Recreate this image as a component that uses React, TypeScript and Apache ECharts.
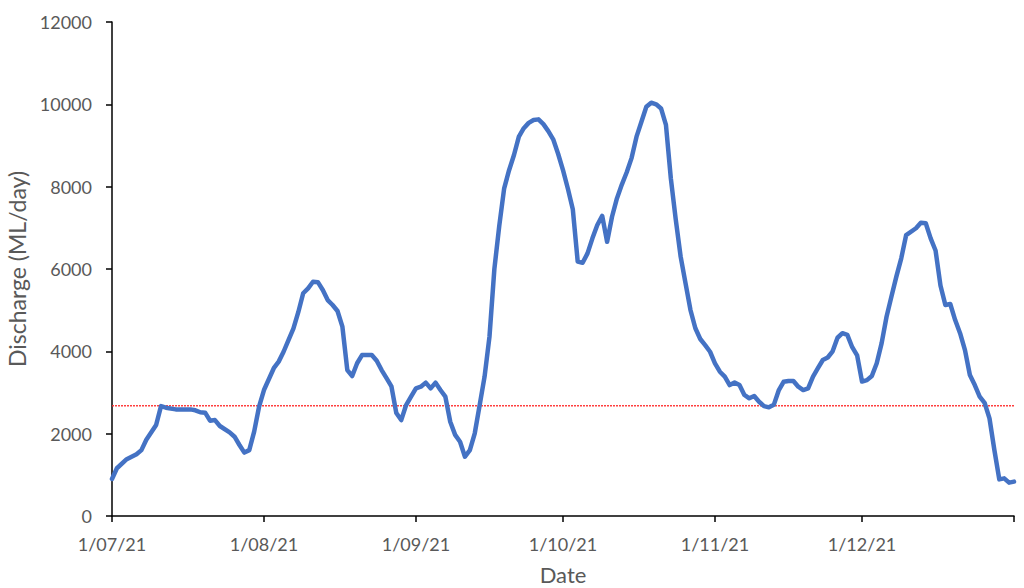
import React, { useEffect, useRef } from "react";
import * as echarts from "echarts";

const dates: string[] = [
  "2021-07-01", "2021-07-02", "2021-07-04", "2021-07-06", "2021-07-07", "2021-07-08", "2021-07-10", "2021-07-11",
  "2021-07-12", "2021-07-14", "2021-07-17", "2021-07-18", "2021-07-19", "2021-07-20", "2021-07-21", "2021-07-22",
  "2021-07-23", "2021-07-25", "2021-07-26", "2021-07-27", "2021-07-28", "2021-07-29", "2021-07-30", "2021-07-31",
  "2021-08-01", "2021-08-03", "2021-08-04", "2021-08-05", "2021-08-06", "2021-08-07", "2021-08-08", "2021-08-09",
  "2021-08-10", "2021-08-11", "2021-08-12", "2021-08-13", "2021-08-14", "2021-08-15", "2021-08-16", "2021-08-17",
  "2021-08-18", "2021-08-19", "2021-08-20", "2021-08-21", "2021-08-23", "2021-08-24", "2021-08-25", "2021-08-26",
  "2021-08-27", "2021-08-28", "2021-08-29", "2021-08-30", "2021-08-31",
  "2021-09-01", "2021-09-02", "2021-09-03", "2021-09-04", "2021-09-05", "2021-09-06", "2021-09-07", "2021-09-08",
  "2021-09-09", "2021-09-10", "2021-09-11", "2021-09-12", "2021-09-13", "2021-09-14", "2021-09-15", "2021-09-16",
  "2021-09-17", "2021-09-18", "2021-09-19", "2021-09-20", "2021-09-21", "2021-09-22", "2021-09-23", "2021-09-24",
  "2021-09-25", "2021-09-26", "2021-09-27", "2021-09-28", "2021-09-29", "2021-09-30",
  "2021-10-01", "2021-10-02", "2021-10-03", "2021-10-04", "2021-10-05", "2021-10-06", "2021-10-07", "2021-10-08",
  "2021-10-09", "2021-10-10", "2021-10-11", "2021-10-12", "2021-10-13", "2021-10-14", "2021-10-15", "2021-10-16",
  "2021-10-17", "2021-10-18", "2021-10-19", "2021-10-20", "2021-10-21", "2021-10-22", "2021-10-23", "2021-10-24",
  "2021-10-25", "2021-10-26", "2021-10-27", "2021-10-28", "2021-10-29", "2021-10-30", "2021-10-31",
  "2021-11-01", "2021-11-02", "2021-11-03", "2021-11-04", "2021-11-05", "2021-11-06", "2021-11-07", "2021-11-08",
  "2021-11-09", "2021-11-10", "2021-11-11", "2021-11-12", "2021-11-13", "2021-11-14", "2021-11-15", "2021-11-16",
  "2021-11-17", "2021-11-18", "2021-11-19", "2021-11-20", "2021-11-21", "2021-11-22", "2021-11-23", "2021-11-24",
  "2021-11-25", "2021-11-26", "2021-11-27", "2021-11-28", "2021-11-29", "2021-11-30",
  "2021-12-01", "2021-12-02", "2021-12-03", "2021-12-04", "2021-12-05", "2021-12-06", "2021-12-07", "2021-12-08",
  "2021-12-09", "2021-12-10", "2021-12-12", "2021-12-13", "2021-12-14", "2021-12-15", "2021-12-16", "2021-12-17",
  "2021-12-18", "2021-12-19", "2021-12-20", "2021-12-21", "2021-12-22", "2021-12-23", "2021-12-24", "2021-12-25",
  "2021-12-26", "2021-12-27", "2021-12-28", "2021-12-29", "2021-12-30", "2021-12-31", "2022-01-01",
];

const discharge: number[] = [
  900, 1160, 1380, 1500, 1600, 1850, 2210, 2670,
  2630, 2590, 2590, 2567, 2520, 2510, 2315, 2330,
  2186, 2033, 1926, 1725, 1540, 1600, 2050, 2655,
  3060, 3590, 3750, 3990, 4275, 4550, 4950, 5410,
  5530, 5690, 5680, 5490, 5245, 5125, 4980, 4600,
  3545, 3400, 3710, 3910, 3910, 3770, 3545, 3350,
  3150, 2500, 2330, 2695, 2900,
  3100, 3140, 3240, 3100, 3240, 3060, 2900, 2290,
  1970, 1805, 1440, 1600, 2010, 2695, 3385, 4355,
  6000, 7050, 7960, 8400, 8770, 9215, 9420, 9550,
  9620, 9635, 9520, 9350, 9150, 8800,
  8400, 7950, 7450, 6180, 6150, 6380, 6745, 7070,
  7290, 6660, 7270, 7715, 8050, 8350, 8700, 9215,
  9575, 9940, 10040, 10000, 9900, 9500, 8200, 7200,
  6300, 5650, 5005, 4560, 4300, 4150, 3990,
  3710, 3505, 3385, 3180, 3240, 3180, 2940, 2860,
  2915, 2775, 2670, 2640, 2700, 3050, 3260, 3280,
  3280, 3140, 3060, 3100, 3385, 3590, 3790, 3850,
  4000, 4330, 4440, 4400, 4100, 3900,
  3265, 3300, 3400, 3710, 4200, 4840, 5330, 5815,
  6260, 6825, 6990, 7125, 7110, 6745, 6450, 5600,
  5125, 5150, 4760, 4440, 4030, 3425, 3180, 2900,
  2750, 2370, 1600, 890, 915, 810, 835,
];

const monthTicks: string[] = [
  "2021-07-01", "2021-08-01", "2021-09-01", "2021-10-01", "2021-11-01", "2021-12-01", "2022-01-01",
];
const monthLabels: string[] = monthTicks.slice(0, 6);

const threshold = 2680;

const FONT = "Lato, Carlito, 'Open Sans', sans-serif";
const GREY = "#595959";

function toTs(s: string): number {
  const [y, m, d] = s.split("-").map(Number);
  return new Date(y, m - 1, d).getTime();
}

function fmt(v: number): string {
  const d = new Date(v);
  const mm = String(d.getMonth() + 1).padStart(2, "0");
  const yy = String(d.getFullYear() % 100).padStart(2, "0");
  return `${d.getDate()}/${mm}/${yy}`;
}

export default function App() {
  const ref = useRef<HTMLDivElement>(null);
  useEffect(() => {
    if (!ref.current) return;
    const chart = echarts.init(ref.current, undefined, { renderer: "svg" });
    const xMin = toTs(monthTicks[0]);
    const xMax = toTs(monthTicks[monthTicks.length - 1]);
    chart.setOption({
      animation: false,
      backgroundColor: "#ffffff",
      grid: { left: 112, right: 10, top: 22, bottom: 72, containLabel: false, outerBoundsMode: "none" },
      xAxis: {
        type: "value",
        min: xMin,
        max: xMax,
        name: "Date",
        nameLocation: "middle",
        nameGap: 47,
        nameTextStyle: { color: GREY, fontSize: 22, fontFamily: FONT },
        axisLine: { show: true, lineStyle: { color: "#000000", width: 1.5 } },
        axisTick: {
          show: true,
          length: 6,
          lineStyle: { color: "#000000", width: 1.5 },
          customValues: monthTicks.map(toTs),
        },
        axisLabel: {
          color: GREY,
          fontSize: 18,
          fontFamily: FONT,
          margin: 19,
          customValues: monthLabels.map(toTs),
          formatter: (v: number) => fmt(v),
        },
        splitLine: { show: false },
      },
      yAxis: {
        type: "value",
        min: 0,
        max: 12000,
        interval: 2000,
        name: "Discharge (ML/day)",
        nameLocation: "middle",
        nameGap: 78,
        nameTextStyle: { color: GREY, fontSize: 23, fontFamily: FONT },
        axisLine: { show: true, lineStyle: { color: "#000000", width: 1.5 } },
        axisTick: { show: true, length: 6, lineStyle: { color: "#000000", width: 1.5 } },
        axisLabel: {
          color: GREY,
          fontSize: 18,
          fontFamily: FONT,
          margin: 20,
          formatter: (v: number) => String(v),
        },
        splitLine: { show: false },
      },
      series: [
        {
          name: "threshold",
          type: "line",
          data: [
            [xMin, threshold],
            [xMax, threshold],
          ],
          showSymbol: false,
          symbol: "none",
          silent: true,
          z: 1,
          lineStyle: { color: "#FF2A2A", width: 1.5, type: [2, 1], opacity: 0.9 },
          itemStyle: { color: "#FF2A2A" },
        },
        {
          name: "Discharge",
          type: "line",
          data: dates.map((d, i) => [toTs(d), discharge[i]]),
          showSymbol: false,
          symbol: "none",
          smooth: false,
          z: 2,
          lineStyle: { color: "#4472C4", width: 4.5, join: "round", cap: "round" },
          itemStyle: { color: "#4472C4" },
        },
      ],
    });
    return () => chart.dispose();
  }, []);
  return (
    <div
      ref={ref}
      style={{ position: "fixed", left: 0, top: 0, width: 1024, height: 588, background: "#fff" }}
    />
  );
}
